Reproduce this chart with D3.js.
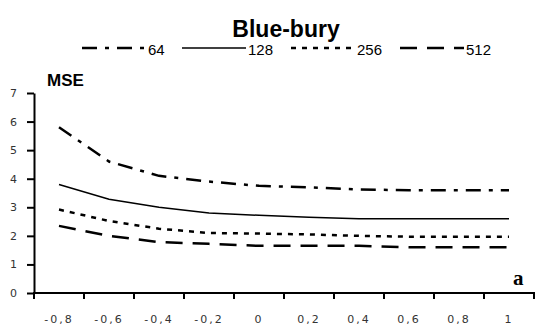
<!DOCTYPE html>
<html lang='en'>
  <head>
    <style type='text/css'>
      body {margin: 0; background-color: #fff;}
      svg {display: block;}
    </style>
  </head>
  <body>
    <svg id='chart' width='542' height='327'></svg>
    <script src='https://d3js.org/d3.v7.min.js'></script>
    <script type='text/javascript'>
        // chart data
        var categories = ["-0,8", "-0,6", "-0,4", "-0,2", "0", "0,2", "0,4", "0,6", "0,8", "1"];
        var yTicks = [0, 1, 2, 3, 4, 5, 6, 7];
        var seriesNames = ["64", "128", "256", "512"];
        var mse64  = [5.8, 4.6, 4.1, 3.9, 3.75, 3.7, 3.62, 3.6, 3.6, 3.6];
        var mse128 = [3.8, 3.28, 3.0, 2.8, 2.72, 2.65, 2.6, 2.6, 2.6, 2.6];
        var mse256 = [2.92, 2.52, 2.25, 2.1, 2.08, 2.05, 2.0, 1.97, 1.97, 1.97];
        var mse512 = [2.35, 2.0, 1.78, 1.72, 1.65, 1.65, 1.65, 1.6, 1.6, 1.6];

        var svg = d3.select("#chart");

        var x = d3.scaleBand().domain(categories).range([34, 534]);
        var y = d3.scaleLinear().domain([0, 7]).range([293, 93]);

        // line styles per series
        var styles = [
          {dash: "15,8,4,8", width: 2.5},
          {dash: null, width: 1.5},
          {dash: "5,6", width: 2.5},
          {dash: "17,10", width: 2.5}
        ];
        var series = [mse64, mse128, mse256, mse512];

        // title
        svg.append("text")
          .attr("x", 286).attr("y", 37)
          .attr("text-anchor", "middle")
          .style("font", "bold 23px 'Liberation Sans', Arial, sans-serif")
          .text("Blue-bury");

        // legend
        var legendX = [82, 182, 291, 400];
        var legend = svg.append("g");
        seriesNames.forEach(function(name, i) {
          legend.append("line")
            .attr("x1", legendX[i]).attr("x2", legendX[i] + 64)
            .attr("y1", 48).attr("y2", 48)
            .attr("stroke", "#000")
            .attr("stroke-width", styles[i].width)
            .attr("stroke-dasharray", styles[i].dash);
          legend.append("text")
            .attr("x", legendX[i] + 66).attr("y", 55)
            .style("font", "15px 'Liberation Sans', Arial, sans-serif")
            .text(name);
        });

        // y axis
        var yAxis = svg.append("g")
          .attr("transform", "translate(34,0)")
          .call(d3.axisLeft(y).tickValues(yTicks).tickFormat(d3.format("d"))
            .tickSize(7).tickPadding(10).tickSizeOuter(0));
        yAxis.select(".domain").attr("stroke-width", 2);
        yAxis.selectAll(".tick line").attr("stroke-width", 2);
        yAxis.selectAll(".tick text")
          .attr("fill", "#333")
          .style("font", "11px 'DejaVu Sans', sans-serif");

        // x axis: labels in the band centres, ticks on band edges
        var xAxis = svg.append("g")
          .attr("transform", "translate(0,293)")
          .call(d3.axisBottom(x).tickSize(0).tickPadding(22).tickSizeOuter(0));
        xAxis.select(".domain").attr("stroke-width", 2).attr("d", "M33,0H535");
        xAxis.selectAll(".tick text")
          .attr("fill", "#333")
          .style("font", "11px 'DejaVu Sans', sans-serif")
          .style("letter-spacing", "2px");
        var edges = categories.map(function(c) { return x(c); }).concat([x.range()[1]]);
        xAxis.selectAll(".edge").data(edges).enter().append("line")
          .attr("class", "edge")
          .attr("x1", function(d) { return d; }).attr("x2", function(d) { return d; })
          .attr("y1", 0).attr("y2", 6)
          .attr("stroke", "#000").attr("stroke-width", 2);

        // axis titles
        svg.append("text")
          .attr("x", 47).attr("y", 86)
          .style("font", "bold 17px 'Liberation Sans', Arial, sans-serif")
          .text("MSE");
        svg.append("text")
          .attr("x", 513).attr("y", 285)
          .style("font", "bold 21px 'Liberation Serif', 'Times New Roman', serif")
          .text("a");

        // lines
        var line = d3.line()
          .x(function(d, i) { return x(categories[i]) + x.bandwidth() / 2; })
          .y(function(d) { return y(d); });
        series.forEach(function(vals, i) {
          svg.append("path")
            .datum(vals)
            .attr("d", line)
            .attr("fill", "none")
            .attr("stroke", "#000")
            .attr("stroke-width", styles[i].width)
            .attr("stroke-dasharray", styles[i].dash);
        });
    </script>
  </body>
</html>
